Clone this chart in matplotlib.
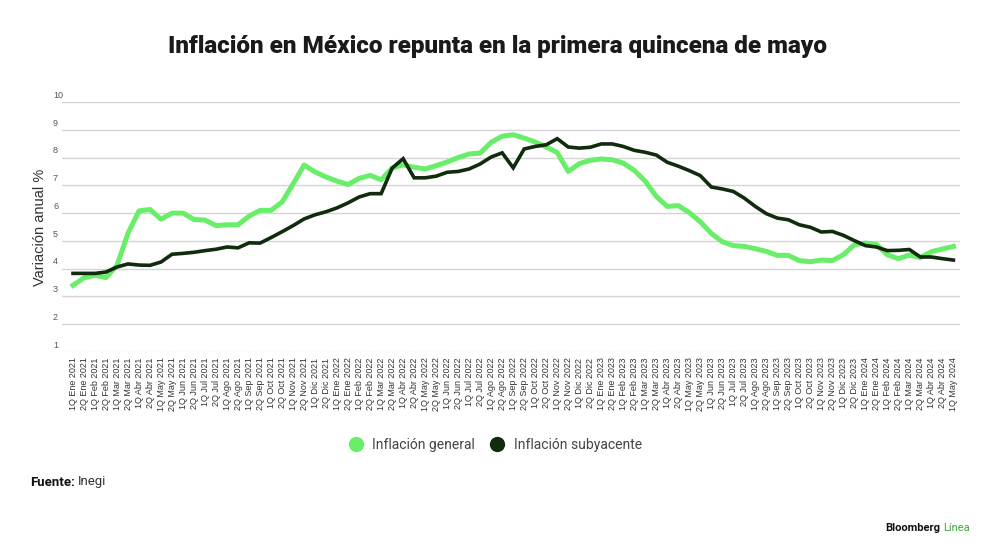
import matplotlib
matplotlib.use("Agg")
import matplotlib.pyplot as plt
from matplotlib.lines import Line2D

months = ["Ene", "Feb", "Mar", "Abr", "May", "Jun", "Jul", "Ago", "Sep", "Oct", "Nov", "Dic"]
labels = []
for yr in [2021, 2022, 2023, 2024]:
    for m in months:
        for q in ["1Q", "2Q"]:
            labels.append(f"{q} {m} {yr}")
labels = labels[:labels.index("1Q May 2024") + 1]

general = [3.40, 3.67, 3.76, 3.68, 4.12, 5.28, 6.08, 6.13, 5.78, 6.00,
           6.00, 5.77, 5.75, 5.55, 5.58, 5.58, 5.89, 6.10, 6.10, 6.40,
           7.05, 7.73, 7.48, 7.30, 7.15, 7.03, 7.25, 7.36, 7.20, 7.62,
           7.74, 7.65, 7.59, 7.71, 7.84, 8.00, 8.13, 8.16, 8.55, 8.77,
           8.82, 8.70, 8.56, 8.38, 8.18, 7.50, 7.78, 7.90, 7.95, 7.92,
           7.80, 7.54, 7.15, 6.60, 6.24, 6.27, 6.02, 5.69, 5.27, 4.97,
           4.83, 4.80, 4.72, 4.62, 4.48, 4.48, 4.29, 4.25, 4.31, 4.29,
           4.50, 4.86, 4.92, 4.87, 4.50, 4.36, 4.49, 4.40, 4.61, 4.71,
           4.80]
subyacente = [3.83, 3.83, 3.83, 3.88, 4.06, 4.17, 4.13, 4.12, 4.24, 4.52,
              4.55, 4.59, 4.65, 4.70, 4.78, 4.75, 4.93, 4.92, 5.12, 5.33,
              5.55, 5.79, 5.94, 6.05, 6.19, 6.37, 6.58, 6.70, 6.70, 7.62,
              7.96, 7.27, 7.27, 7.33, 7.47, 7.50, 7.59, 7.77, 8.02, 8.17,
              7.63, 8.31, 8.40, 8.46, 8.68, 8.38, 8.34, 8.37, 8.49, 8.49,
              8.40, 8.26, 8.19, 8.09, 7.83, 7.69, 7.53, 7.35, 6.94, 6.87,
              6.78, 6.54, 6.24, 5.98, 5.82, 5.76, 5.58, 5.49, 5.32, 5.34,
              5.20, 5.01, 4.83, 4.78, 4.65, 4.66, 4.69, 4.42, 4.42, 4.36,
              4.31]
yticks = [1, 2, 3, 4, 5, 6, 7, 8, 9, 10]
series_names = ["Inflación general", "Inflación subyacente"]

GREEN = "#69EE69"
DARK = "#112B0F"

fig = plt.figure(figsize=(10, 5.58), dpi=100)
W, H = 1000, 558
ax = fig.add_axes([62 / W, 1 - 352 / H, (960 - 62) / W, (352 - 102) / H])

x = list(range(len(labels)))
ax.plot(x, general, color=GREEN, lw=3.6, solid_joinstyle="round", zorder=3)
ax.plot(x, subyacente, color=DARK, lw=2.6, solid_joinstyle="miter", zorder=4)

ax.set_xlim(-1, len(labels) - 1 + 0.6)
ax.set_ylim(1, 10)
for v in yticks:
    if v == 1:
        ax.axhline(v, color="#c8c8c8", lw=0.9, ls=(0, (1, 1)), zorder=1)
    else:
        ax.axhline(v, color="#d4d4d4", lw=1.0, zorder=1)
    ax.text(-9 / 898, v + 0.08, str(v), transform=ax.get_yaxis_transform(),
            ha="left", va="bottom", fontsize=6.5, color="#555555",
            family="Liberation Sans")

ax.set_yticks([])
ax.set_xticks(x)
ax.set_xticklabels(labels, rotation=90, fontsize=6.5, color="#333333",
                   family="Liberation Sans", va="top", ha="center")
ax.tick_params(axis="x", length=0, pad=4)
for s in ax.spines.values():
    s.set_visible(False)

fig.text(40 / W, 1 - 227 / H, "Variación anual %", rotation=90, ha="center",
         va="center", fontsize=10.5, color="#333333", family="Liberation Sans")

fig.text(498 / W, 1 - 47 / H, "Inflación en México repunta en la primera quincena de mayo",
         ha="center", va="center", fontsize=17.5, fontweight=900,
         color="#1a1a1a", family="Roboto")

handles = [Line2D([], [], marker="o", ls="", color=GREEN, markersize=10),
           Line2D([], [], marker="o", ls="", color=DARK, markersize=10)]
fig.legend(handles, series_names, loc="center", bbox_to_anchor=(492 / W, 1 - 445 / H),
           ncol=2, frameon=False, handletextpad=0.2, columnspacing=0.6,
           prop={"family": "Roboto", "size": 10}, labelcolor="#444444")

t1 = fig.text(30 / W, 1 - 482 / H, "Fuente:", ha="left", va="center",
              fontsize=9.5, fontweight="bold", color="#111111", family="Roboto")
fig.canvas.draw()
bb = t1.get_window_extent()
fig.text(bb.x1 / W + 3 / W, 1 - 482 / H, "Inegi", ha="left", va="center",
         fontsize=9.5, color="#333333", family="Roboto")

t2 = fig.text(970 / W, 1 - 528 / H, "Línea", ha="right", va="center",
              fontsize=8, color="#3DAA3D", family="Roboto")
fig.canvas.draw()
bb2 = t2.get_window_extent()
fig.text(bb2.x0 / W - 3 / W, 1 - 528 / H, "Bloomberg", ha="right", va="center",
         fontsize=8, fontweight="bold", color="#111111", family="Roboto")

fig.savefig("out.png", dpi=100)
